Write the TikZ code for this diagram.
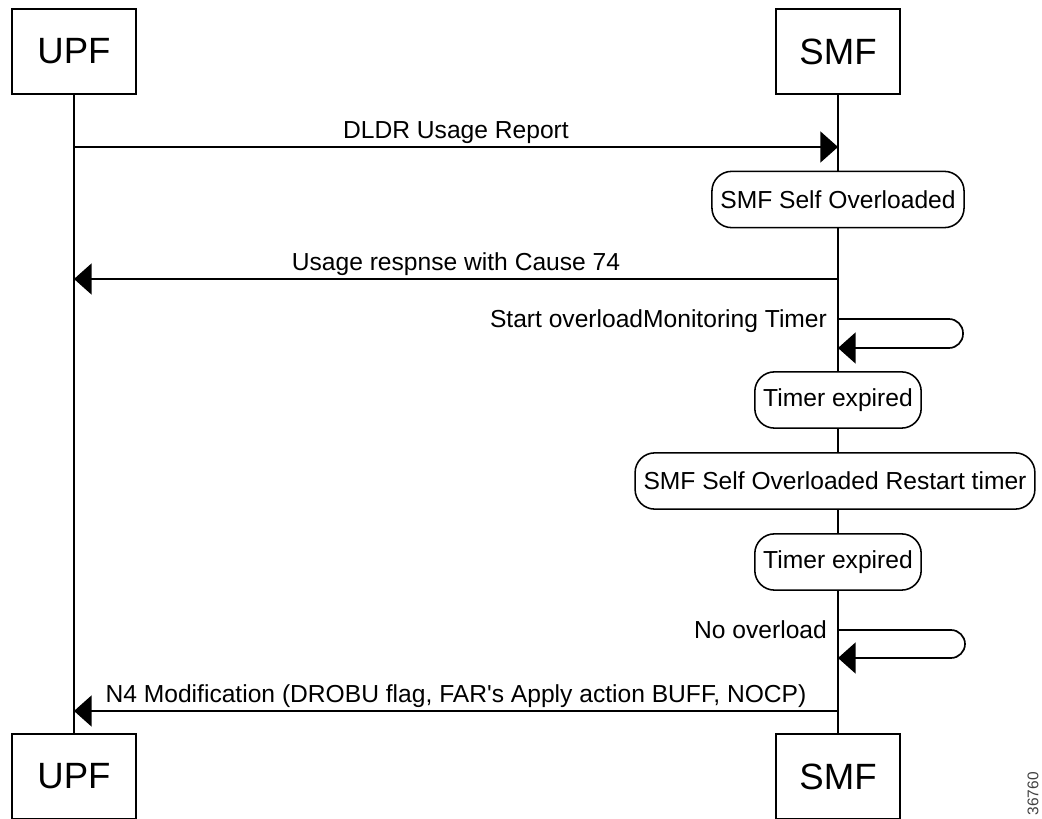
\documentclass[tikz,border=0pt]{standalone}
\usepackage{fontspec}
\setmainfont{Liberation Sans}
\usetikzlibrary{arrows.meta}

\begin{document}
\begin{tikzpicture}[x=0.025cm,y=-0.025cm,
  actor/.style={draw,line width=1.1pt,fill=white,minimum width=88pt,minimum height=60.5pt,font=\fontsize{26}{30}\selectfont},
  state/.style={draw,line width=1.1pt,fill=white,rounded corners=14pt,minimum height=40pt,inner xsep=6pt,font=\fontsize{17.5}{20}\selectfont},
  msg/.style={line width=1.2pt,-{Triangle[length=12.5pt,width=22pt]}},
  lbl/.style={font=\fontsize{17.5}{20}\selectfont,inner sep=2pt},
  life/.style={line width=1pt}]
\useasboundingbox (0,0) rectangle (1042,819);
\node[actor] (UT) at (74,51.5) {UPF};
\node[actor] (ST) at (838,51.5) {SMF};
\node[actor] (UB) at (74,776.5) {UPF};
\node[actor] (SB) at (838,776.5) {SMF};
\draw[life] (UT) -- (UB);
\draw[life] (ST) -- (SB);
\coordinate (u1) at (74,147);
\coordinate (s1) at (838,147);
\draw[msg] (u1) -- node[lbl,above] {DLDR Usage Report} (s1);
\node[state] (ov) at (838,199.5) {SMF Self Overloaded};
\coordinate (s2) at (838,279);
\coordinate (u2) at (74,279);
\draw[msg] (s2) -- node[lbl,above] {Usage respnse with Cause 74} (u2);
\coordinate (s3) at (838,319);
\coordinate (s3b) at (838,348);
\node[lbl,anchor=east] (L1) at (830,321) {Start overloadMonitoring Timer};
\draw[msg,rounded corners=10pt] (s3) -- (963,319) |- (s3b);
\node[state] (te1) at (838,400) {Timer expired};
\node[state] (rs) at (835,481) {SMF Self Overloaded Restart timer};
\node[state] (te2) at (838,562) {Timer expired};
\coordinate (s4) at (838,630);
\coordinate (s4b) at (838,658);
\node[lbl,anchor=east] (L2) at (830,630) {No overload};
\draw[msg,rounded corners=10pt] (s4) -- (965,630) |- (s4b);
\coordinate (s5) at (838,711);
\coordinate (u5) at (74,711);
\draw[msg] (s5) -- node[lbl,above] {N4 Modification (DROBU flag, FAR\textquotesingle s Apply action BUFF, NOCP)} (u5);
\node[rotate=90,anchor=east,text=black!75,font=\fontsize{11}{12}\selectfont,inner sep=0pt] (id) at (1033,772) {36760};
\end{tikzpicture}
\end{document}
